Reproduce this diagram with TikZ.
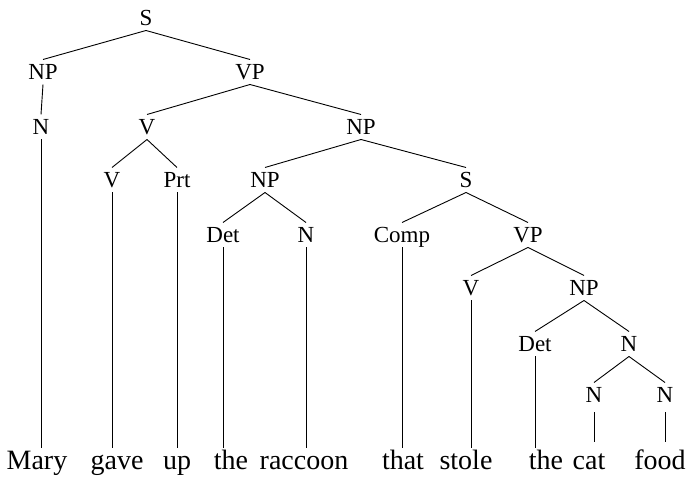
\documentclass[tikz,border=0pt]{standalone}
\usepackage{fontspec}
\setmainfont{Liberation Serif}
\begin{document}
\begin{tikzpicture}[x=1pt,y=-1pt,
  cat/.style={font=\fontsize{23}{23}\selectfont, inner sep=0pt, text height=15pt, text depth=0pt, outer ysep=5pt},
  word/.style={font=\fontsize{28}{28}\selectfont, inner sep=0pt, text height=19pt, text depth=6pt, outer ysep=3pt, anchor=base},
  edge/.style={line width=0.9pt},
  short/.style={edge, shorten <=5pt, shorten >=6pt}]
\useasboundingbox (0,0) rectangle (686,478);
% categories
\node[cat] (S1) at (146,18) {S};
\node[cat] (NP1) at (43,72) {NP};
\node[cat] (VP1) at (250,72) {VP};
\node[cat] (N1) at (41,127) {N};
\node[cat] (V1) at (147,127) {V};
\node[cat] (NP2) at (361,127) {NP};
\node[cat] (V2) at (112,180) {V};
\node[cat] (Prt) at (177,180) {Prt};
\node[cat] (NP3) at (265,180) {NP};
\node[cat] (S2) at (466,180) {S};
\node[cat] (Det1) at (223,235) {Det};
\node[cat] (N2) at (306,235) {N};
\node[cat] (Comp) at (402,235) {Comp};
\node[cat] (VP2) at (528,235) {VP};
\node[cat] (V3) at (471,288) {V};
\node[cat] (NP4) at (584,288) {NP};
\node[cat] (Det2) at (535,344) {Det};
\node[cat] (N3) at (629,344) {N};
\node[cat] (N4) at (594,395) {N};
\node[cat] (N5) at (665,395) {N};
% words
\node[word] (w1) at (37,470) {Mary};
\node[word] (w2) at (117,470) {gave};
\node[word] (w3) at (177,470) {up};
\node[word] (w4) at (231,470) {the};
\node[word] (w5) at (304,470) {raccoon};
\node[word] (w6) at (403,470) {that};
\node[word] (w7) at (466,470) {stole};
\node[word] (w8) at (546,470) {the};
\node[word] (w9) at (589,470) {cat};
\node[word] (w10) at (660,470) {food};
% branches
\draw[edge] (S1.south) -- (NP1.north);
\draw[edge] (S1.south) -- (VP1.north);
\draw[edge] (NP1.south) -- (N1.north);
\draw[edge] (VP1.south) -- (V1.north);
\draw[edge] (VP1.south) -- (NP2.north);
\draw[edge] (V1.south) -- (V2.north);
\draw[edge] (V1.south) -- (Prt.north);
\draw[edge] (NP2.south) -- (NP3.north);
\draw[edge] (NP2.south) -- (S2.north);
\draw[edge] (NP3.south) -- (Det1.north);
\draw[edge] (NP3.south) -- (N2.north);
\draw[edge] (S2.south) -- (Comp.north);
\draw[edge] (S2.south) -- (VP2.north);
\draw[edge] (VP2.south) -- (V3.north);
\draw[edge] (VP2.south) -- (NP4.north);
\draw[edge] (NP4.south) -- (Det2.north);
\draw[edge] (NP4.south) -- (N3.north);
\draw[edge] (N3.south) -- (N4.north);
\draw[edge] (N3.south) -- (N5.north);
% leaves
\draw[edge] (N1.south) -- (N1.south |- w1.north);
\draw[edge] (V2.south) -- (V2.south |- w2.north);
\draw[edge] (Prt.south) -- (Prt.south |- w3.north);
\draw[edge] (Det1.south) -- (Det1.south |- w4.north);
\draw[edge] (N2.south) -- (N2.south |- w5.north);
\draw[edge] (Comp.south) -- (Comp.south |- w6.north);
\draw[edge] (V3.south) -- (V3.south |- w7.north);
\draw[edge] (Det2.south) -- (Det2.south |- w8.north);
\draw[short] (N4.south) -- (N4.south |- w9.north);
\draw[short] (N5.south) -- (N5.south |- w10.north);
\end{tikzpicture}
\end{document}
